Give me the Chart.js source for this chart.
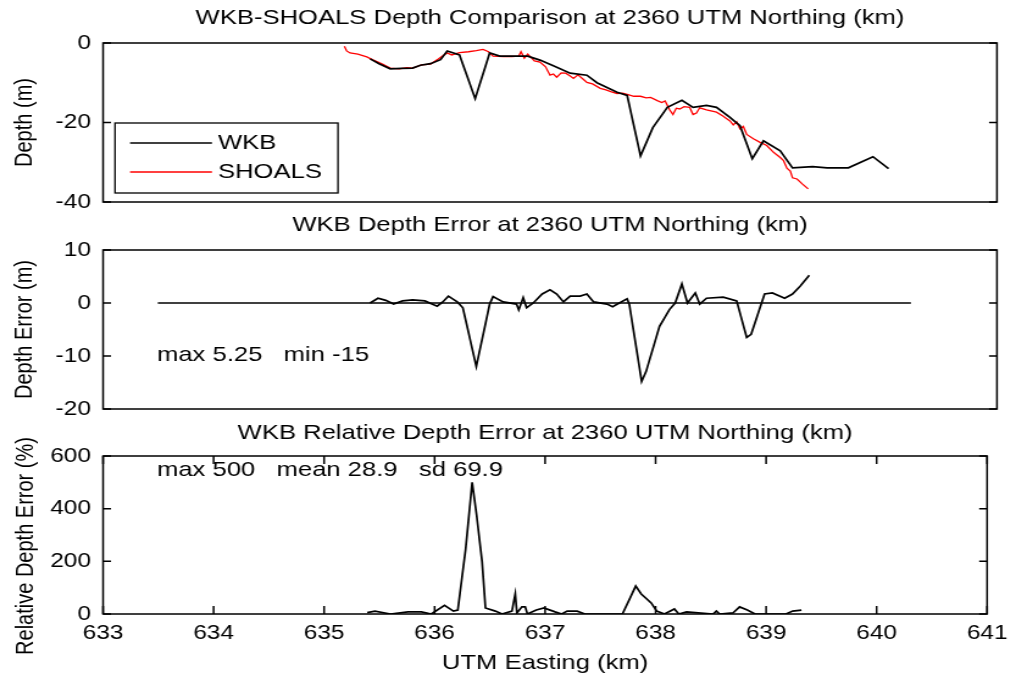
<!DOCTYPE html>
<html>
<head>
<meta charset="utf-8">
<script src="https://cdn.jsdelivr.net/npm/chart.js@4.4.0/dist/chart.umd.min.js"></script>
<style>
  html, body { margin: 0; padding: 0; background: #fff; }
  #wrap { position: relative; width: 1016px; height: 676px; overflow: hidden; background: #fff; }
  /* the charts are drawn a bit narrower and stretched to the page width, like the original figure */
  #wrap canvas { position: absolute; left: 0; top: 0; width: 1016px !important; height: 676px !important; }
</style>
</head>
<body>
<div id="wrap">
  <canvas id="depthChart" width="833" height="676"></canvas>
  <canvas id="errorChart" width="833" height="676"></canvas>
  <canvas id="relChart" width="833" height="676"></canvas>
</div>
<script>
// x axis (UTM Easting, km)
var xTicksMin = 633;
var xTicksMax = 641;

// WKB depth profile
var wkbX = [635.39, 635.47, 635.57, 635.67, 635.77, 635.84, 635.93, 636.02, 636.08, 636.19, 636.33, 636.46, 636.55, 636.80, 636.91, 637.05, 637.18, 637.33, 637.42, 637.60, 637.69, 637.81, 637.92, 638.05, 638.18, 638.28, 638.40, 638.49, 638.61, 638.70, 638.81, 638.91, 639.06, 639.17, 639.35, 639.48, 639.67, 639.89, 640.03];
var wkbDepth = [-4.0, -5.2, -6.5, -6.4, -6.3, -5.6, -5.2, -4.2, -2.0, -3.0, -14.0, -2.5, -3.3, -3.3, -4.3, -6.0, -7.6, -8.1, -10.0, -12.4, -13.2, -28.4, -21.3, -16.2, -14.4, -16.2, -15.7, -16.2, -18.7, -20.8, -29.1, -24.6, -27.1, -31.4, -31.1, -31.4, -31.4, -28.6, -31.6];

// SHOALS depth profile
var shoalsX = [635.16, 635.18, 635.21, 635.28, 635.36, 635.42, 635.50, 635.57, 635.65, 635.72, 635.77, 635.85, 635.93, 636.00, 636.05, 636.08, 636.12, 636.19, 636.27, 636.34, 636.40, 636.45, 636.49, 636.58, 636.66, 636.72, 636.74, 636.77, 636.80, 636.83, 636.86, 636.91, 636.96, 637.00, 637.03, 637.06, 637.10, 637.14, 637.18, 637.21, 637.25, 637.30, 637.33, 637.38, 637.45, 637.50, 637.55, 637.60, 637.65, 637.69, 637.75, 637.81, 637.86, 637.90, 637.96, 638.00, 638.03, 638.07, 638.10, 638.13, 638.16, 638.20, 638.25, 638.28, 638.31, 638.34, 638.40, 638.49, 638.55, 638.61, 638.64, 638.67, 638.70, 638.73, 638.76, 638.82, 638.88, 638.94, 639.00, 639.06, 639.09, 639.12, 639.15, 639.17, 639.21, 639.26, 639.31];
var shoalsDepth = [-0.8, -2.0, -2.5, -2.8, -3.5, -4.3, -5.3, -6.3, -6.5, -6.2, -6.3, -5.5, -5.3, -4.0, -3.0, -2.5, -3.0, -2.4, -2.2, -1.9, -1.6, -2.2, -3.3, -3.4, -3.4, -3.3, -2.2, -3.8, -2.8, -3.6, -4.5, -4.8, -6.0, -8.1, -7.8, -8.6, -7.5, -7.6, -8.3, -8.9, -8.0, -9.2, -9.9, -10.3, -11.4, -11.8, -12.3, -12.7, -12.6, -12.9, -13.4, -13.4, -13.8, -13.7, -14.5, -15.0, -14.6, -16.8, -18.0, -16.4, -16.6, -16.0, -16.2, -18.0, -17.6, -16.3, -16.8, -17.4, -18.4, -19.6, -20.6, -19.8, -21.6, -21.0, -23.0, -24.1, -25.0, -25.8, -27.5, -28.8, -29.6, -31.5, -32.2, -33.9, -34.2, -35.5, -36.7];

// WKB depth error (m)
var errX = [635.39, 635.46, 635.53, 635.60, 635.68, 635.77, 635.88, 635.99, 636.04, 636.09, 636.17, 636.22, 636.34, 636.46, 636.49, 636.58, 636.70, 636.72, 636.76, 636.79, 636.85, 636.93, 637.00, 637.06, 637.12, 637.18, 637.27, 637.33, 637.39, 637.51, 637.56, 637.62, 637.69, 637.71, 637.82, 637.86, 637.98, 638.07, 638.12, 638.18, 638.23, 638.30, 638.34, 638.40, 638.55, 638.67, 638.76, 638.80, 638.92, 638.99, 639.10, 639.17, 639.24, 639.32];
var errVal = [0, 0.9, 0.5, -0.2, 0.4, 0.6, 0.4, -0.6, 0.2, 1.3, 0.2, -0.9, -12.0, -0.2, 1.2, 0.2, -0.2, -1.3, 1.0, -0.9, 0, 1.7, 2.5, 1.7, 0.2, 1.3, 1.3, 1.7, 0.2, -0.2, -0.7, 0, 0.8, -0.3, -14.8, -12.9, -4.4, -1.2, 0, 3.6, 0, 1.9, -0.2, 0.9, 1.1, 0.4, -6.5, -5.9, 1.7, 1.9, 0.9, 1.7, 3.2, 5.25];
var zeroX = [633.49, 640.23];
var zeroVal = [0, 0];

// WKB relative depth error (%)
var relX = [635.39, 635.46, 635.60, 635.76, 635.88, 635.97, 636.09, 636.17, 636.21, 636.28, 636.34, 636.38, 636.43, 636.46, 636.55, 636.61, 636.70, 636.73, 636.745, 636.79, 636.82, 636.84, 636.92, 636.99, 637.09, 637.15, 637.20, 637.29, 637.36, 637.70, 637.82, 637.87, 637.96, 638.01, 638.08, 638.17, 638.21, 638.28, 638.52, 638.55, 638.58, 638.70, 638.76, 638.83, 638.90, 639.18, 639.24, 639.32];
var relVal = [5, 11, 0, 8, 8, 0, 33, 11, 15, 243, 500, 376, 198, 23, 11, 0, 11, 76, 4, 27, 27, 0, 15, 23, 8, 0, 11, 11, 0, 0, 106, 76, 42, 11, 0, 19, 0, 8, 0, 11, 0, 4, 27, 15, 0, 0, 11, 15];

var FONT = '"Liberation Sans", Arial, Helvetica, sans-serif';

function points(xs, ys) {
    var out = [];
    for (var i = 0; i < xs.length; i++) out.push({ x: xs[i], y: ys[i] });
    return out;
}

// box, inner tick marks, title, notes and legend (matlab look)
var matlabFrame = {
    id: 'matlabFrame',
    afterDraw: function(chart, args, o) {
        var ctx = chart.ctx;
        var a = chart.chartArea;
        var sx = chart.scales.x;
        var sy = chart.scales.y;
        ctx.save();
        ctx.strokeStyle = '#000';
        ctx.lineWidth = 1.5;
        ctx.strokeRect(a.left, a.top, a.right - a.left, a.bottom - a.top);

        ctx.beginPath();
        sy.ticks.forEach(function(t) {
            var y = sy.getPixelForValue(t.value);
            ctx.moveTo(a.left, y); ctx.lineTo(a.left + 6.5, y);
            ctx.moveTo(a.right, y); ctx.lineTo(a.right - 6.5, y);
        });
        if (o.xTicks) {
            sx.ticks.forEach(function(t) {
                var x = sx.getPixelForValue(t.value);
                ctx.moveTo(x, a.bottom); ctx.lineTo(x, a.bottom - 8);
                ctx.moveTo(x, a.top); ctx.lineTo(x, a.top + 8);
            });
        }
        ctx.stroke();

        ctx.fillStyle = '#000';
        ctx.font = '21px ' + FONT;
        ctx.textBaseline = 'middle';
        ctx.textAlign = 'center';
        ctx.fillText(o.title, (a.left + a.right) / 2, o.titleY);

        if (o.note) {
            ctx.textAlign = 'left';
            ctx.fillText(o.note, o.noteX, o.noteY);
        }

        // long y label, set a little lower than the axis middle
        if (o.yLabel) {
            ctx.save();
            ctx.font = '20px ' + FONT;
            ctx.translate(o.yLabelX, o.yLabelY);
            ctx.rotate(-Math.PI / 2);
            ctx.textAlign = 'center';
            ctx.fillText(o.yLabel, 0, 0);
            ctx.restore();
        }

        if (o.legend) {
            var L = o.legend;
            ctx.fillStyle = '#fff';
            ctx.fillRect(L.left, L.top, L.right - L.left, L.bottom - L.top);
            ctx.lineWidth = 1.3;
            ctx.strokeStyle = '#000';
            ctx.strokeRect(L.left, L.top, L.right - L.left, L.bottom - L.top);
            chart.data.datasets.forEach(function(ds, i) {
                var y = L.rows[i];
                ctx.beginPath();
                ctx.strokeStyle = ds.borderColor;
                ctx.lineWidth = 1.4;
                ctx.moveTo(L.lineFrom, y);
                ctx.lineTo(L.lineTo, y);
                ctx.stroke();
                ctx.fillStyle = '#000';
                ctx.textAlign = 'left';
                ctx.fillText(ds.label, L.textX, y);
            });
        }
        ctx.restore();
    }
};

function makePanel(id, datasets, y, deco, isBottom) {
    var xAxis = {
        type: 'linear',
        min: xTicksMin,
        max: xTicksMax,
        display: false,
        ticks: { stepSize: 1 }
    };
    if (isBottom) {
        xAxis = {
            type: 'linear',
            min: xTicksMin,
            max: xTicksMax,
            display: true,
            grid: { display: false, drawTicks: false },
            border: { display: false },
            ticks: {
                stepSize: 1,
                padding: 7,
                color: '#000',
                maxRotation: 0,
                autoSkip: false,
                font: { family: FONT, size: 20 }
            },
            title: {
                display: true,
                text: 'UTM Easting (km)',
                color: '#000',
                font: { family: FONT, size: 21 },
                padding: { top: 0, bottom: 0 }
            },
            afterFit: function(scale) { scale.height = 62; }
        };
    }
    return new Chart(document.getElementById(id).getContext('2d'), {
        type: 'line',
        data: { datasets: datasets },
        plugins: [matlabFrame],
        options: {
            responsive: false,
            animation: false,
            devicePixelRatio: 1,
            layout: { padding: { left: 0, right: 15.6, top: y.top, bottom: y.bottom } },
            elements: { point: { radius: 0 }, line: { tension: 0 } },
            plugins: {
                legend: { display: false },
                tooltip: { enabled: false },
                matlabFrame: deco
            },
            scales: {
                x: xAxis,
                y: {
                    min: y.min,
                    max: y.max,
                    grid: { display: false, drawTicks: false },
                    border: { display: false },
                    ticks: {
                        stepSize: y.step,
                        padding: 10,
                        color: '#000',
                        font: { family: FONT, size: 20 }
                    },
                    title: {
                        display: !!y.title,
                        text: y.title,
                        color: '#000',
                        font: { family: FONT, size: 20 },
                        padding: { top: 8, bottom: 0 }
                    },
                    afterFit: function(scale) { scale.width = 84.5; }
                }
            }
        }
    });
}

document.addEventListener("DOMContentLoaded", function() {

    makePanel('depthChart', [
        { label: 'WKB', data: points(wkbX, wkbDepth), borderColor: '#000000', borderWidth: 1.7 },
        { label: 'SHOALS', data: points(shoalsX, shoalsDepth), borderColor: '#ff0000', borderWidth: 1.3 }
    ], { min: -40, max: 0, step: 20, title: 'Depth (m)', top: 43, bottom: 474 }, {
        title: 'WKB-SHOALS Depth Comparison at 2360 UTM Northing (km)',
        titleY: 18,
        legend: { left: 94.3, right: 277.1, top: 123, bottom: 193, lineFrom: 106.6, lineTo: 173.8, textX: 178.7, rows: [143, 172] }
    }, false);

    makePanel('errorChart', [
        { label: 'zero', data: points(zeroX, zeroVal), borderColor: '#000000', borderWidth: 1.4 },
        { label: 'error', data: points(errX, errVal), borderColor: '#000000', borderWidth: 1.7 }
    ], { min: -20, max: 10, step: 10, title: 'Depth Error (m)', top: 250, bottom: 267 }, {
        title: 'WKB Depth Error at 2360 UTM Northing (km)',
        titleY: 225,
        note: 'max 5.25   min -15',
        noteX: 128.7,
        noteY: 355
    }, false);

    makePanel('relChart', [
        { label: 'relative', data: points(relX, relVal), borderColor: '#000000', borderWidth: 1.7 }
    ], { min: 0, max: 600, step: 200, title: '', top: 456, bottom: 0 }, {
        title: 'WKB Relative Depth Error at 2360 UTM Northing (km)',
        titleY: 433,
        note: 'max 500   mean 28.9   sd 69.9',
        noteX: 128.7,
        noteY: 470,
        yLabel: 'Relative Depth Error (%)',
        yLabelX: 21.2,
        yLabelY: 546,
        xTicks: true
    }, true);
});
</script>
</body>
</html>
